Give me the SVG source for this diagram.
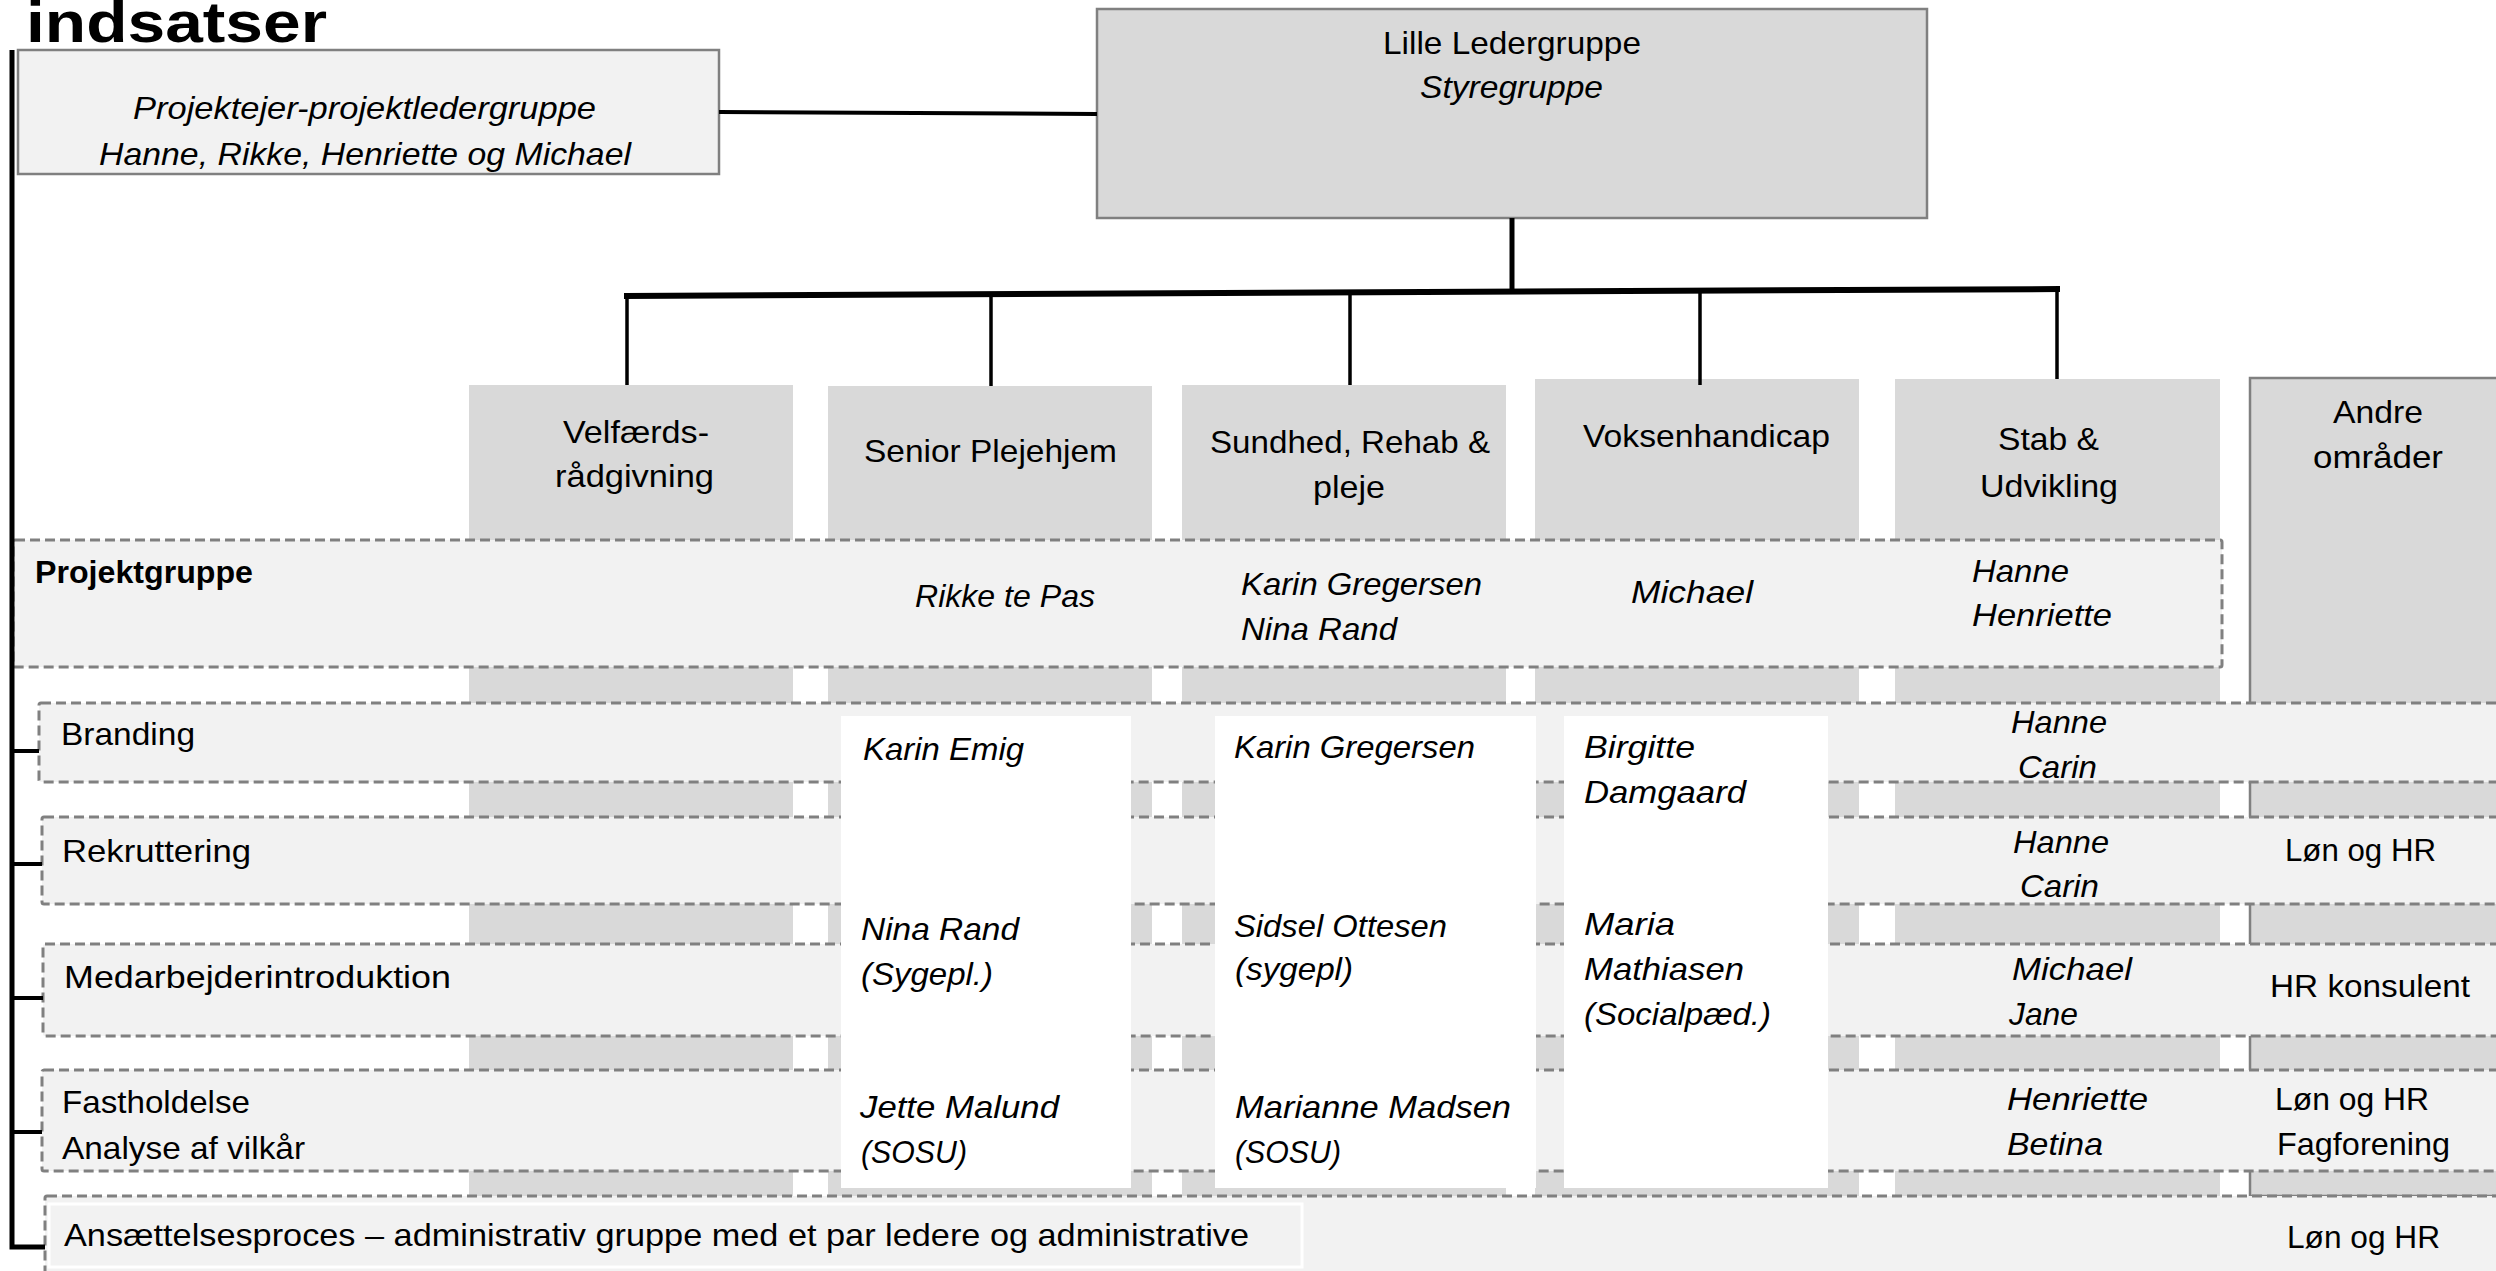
<svg xmlns="http://www.w3.org/2000/svg" width="2496" height="1271" viewBox="0 0 2496 1271">
<style>
.t{font-family:"Liberation Sans",Arial,sans-serif;font-size:32px;fill:#000}
.i{font-style:italic}
.b{font-weight:bold}
.col{fill:#d9d9d9}
.row{fill:#f2f2f2;stroke:#808080;stroke-width:3;stroke-dasharray:10 5}
.box{stroke:#808080;stroke-width:2.5}
.wb{fill:#ffffff}
.c{stroke:#000;fill:none;stroke-linecap:butt}
</style>
<rect x="0" y="0" width="2496" height="1271" fill="#ffffff"/>
<g id="title">
<text class="t b" x="26" y="42" style="font-size:58px" textLength="301" lengthAdjust="spacingAndGlyphs">indsatser</text>
</g>
<g id="projektejer">
<rect class="box" x="18" y="50" width="701" height="124" fill="#f2f2f2"/>
<text class="t i" x="133" y="119" textLength="463" lengthAdjust="spacingAndGlyphs">Projektejer-projektledergruppe</text>
<text class="t i" x="99" y="165" textLength="532" lengthAdjust="spacingAndGlyphs">Hanne, Rikke, Henriette og Michael</text>
</g>
<g id="lille-ledergruppe">
<rect class="box" x="1097" y="9" width="830" height="209" fill="#d9d9d9"/>
<text class="t" x="1383" y="54" textLength="258" lengthAdjust="spacingAndGlyphs">Lille Ledergruppe</text>
<text class="t i" x="1420" y="98" textLength="183" lengthAdjust="spacingAndGlyphs">Styregruppe</text>
</g>
<g id="dept-velfaerd">
<rect class="col" x="469" y="385" width="324" height="811"/>
<text class="t" x="563" y="443" textLength="146" lengthAdjust="spacingAndGlyphs">Velfærds-</text>
<text class="t" x="555" y="487" textLength="159" lengthAdjust="spacingAndGlyphs">rådgivning</text>
</g>
<g id="dept-senior">
<rect class="col" x="828" y="386" width="324" height="810"/>
<text class="t" x="864" y="462" textLength="253" lengthAdjust="spacingAndGlyphs">Senior Plejehjem</text>
</g>
<g id="dept-sundhed">
<rect class="col" x="1182" y="385" width="324" height="811"/>
<text class="t" x="1210" y="453" textLength="280" lengthAdjust="spacingAndGlyphs">Sundhed, Rehab &amp;</text>
<text class="t" x="1313" y="498" textLength="72" lengthAdjust="spacingAndGlyphs">pleje</text>
</g>
<g id="dept-voksen">
<rect class="col" x="1535" y="379" width="324" height="817"/>
<text class="t" x="1583" y="447" textLength="247" lengthAdjust="spacingAndGlyphs">Voksenhandicap</text>
</g>
<g id="dept-stab">
<rect class="col" x="1895" y="379" width="325" height="817"/>
<text class="t" x="1998" y="450" textLength="101" lengthAdjust="spacingAndGlyphs">Stab &amp;</text>
<text class="t" x="1980" y="497" textLength="138" lengthAdjust="spacingAndGlyphs">Udvikling</text>
</g>
<g id="dept-andre">
<rect class="col box" x="2250" y="378" width="270" height="818"/>
<text class="t" x="2333" y="423" textLength="90" lengthAdjust="spacingAndGlyphs">Andre</text>
<text class="t" x="2313" y="468" textLength="130" lengthAdjust="spacingAndGlyphs">områder</text>
</g>
<g id="row-projektgruppe">
<rect class="row" x="13" y="540" width="2209" height="127" rx="2"/>
<text class="t b" x="35" y="583" textLength="218" lengthAdjust="spacingAndGlyphs">Projektgruppe</text>
<text class="t i" x="915" y="607" textLength="180" lengthAdjust="spacingAndGlyphs">Rikke te Pas</text>
<text class="t i" x="1241" y="595" textLength="241" lengthAdjust="spacingAndGlyphs">Karin Gregersen</text>
<text class="t i" x="1241" y="640" textLength="156" lengthAdjust="spacingAndGlyphs">Nina Rand</text>
<text class="t i" x="1631" y="603" textLength="122" lengthAdjust="spacingAndGlyphs">Michael</text>
<text class="t i" x="1972" y="582" textLength="97" lengthAdjust="spacingAndGlyphs">Hanne</text>
<text class="t i" x="1972" y="626" textLength="140" lengthAdjust="spacingAndGlyphs">Henriette</text>
</g>
<g id="row-branding">
<rect class="row" x="39" y="703" width="2490" height="79" rx="2"/>
<text class="t" x="61" y="745" textLength="134" lengthAdjust="spacingAndGlyphs">Branding</text>
<text class="t i" x="2011" y="733" textLength="96" lengthAdjust="spacingAndGlyphs">Hanne</text>
<text class="t i" x="2018" y="778" textLength="79" lengthAdjust="spacingAndGlyphs">Carin</text>
</g>
<g id="row-rekruttering">
<rect class="row" x="42" y="817" width="2490" height="87" rx="2"/>
<text class="t" x="62" y="862" textLength="189" lengthAdjust="spacingAndGlyphs">Rekruttering</text>
<text class="t i" x="2013" y="853" textLength="96" lengthAdjust="spacingAndGlyphs">Hanne</text>
<text class="t i" x="2020" y="897" textLength="79" lengthAdjust="spacingAndGlyphs">Carin</text>
<text class="t" x="2285" y="861" textLength="151" lengthAdjust="spacingAndGlyphs">Løn og HR</text>
</g>
<g id="row-medarbejderintroduktion">
<rect class="row" x="43" y="944" width="2490" height="92" rx="2"/>
<text class="t" x="64" y="988" textLength="387" lengthAdjust="spacingAndGlyphs">Medarbejderintroduktion</text>
<text class="t i" x="2012" y="980" textLength="120" lengthAdjust="spacingAndGlyphs">Michael</text>
<text class="t i" x="2009" y="1025" textLength="69" lengthAdjust="spacingAndGlyphs">Jane</text>
<text class="t" x="2270" y="997" textLength="200" lengthAdjust="spacingAndGlyphs">HR konsulent</text>
</g>
<g id="row-fastholdelse">
<rect class="row" x="42" y="1070" width="2490" height="101" rx="2"/>
<text class="t" x="62" y="1113" textLength="188" lengthAdjust="spacingAndGlyphs">Fastholdelse</text>
<text class="t" x="62" y="1159" textLength="243" lengthAdjust="spacingAndGlyphs">Analyse af vilkår</text>
<text class="t i" x="2007" y="1110" textLength="141" lengthAdjust="spacingAndGlyphs">Henriette</text>
<text class="t i" x="2007" y="1155" textLength="96" lengthAdjust="spacingAndGlyphs">Betina</text>
<text class="t" x="2275" y="1110" textLength="154" lengthAdjust="spacingAndGlyphs">Løn og HR</text>
<text class="t" x="2277" y="1155" textLength="173" lengthAdjust="spacingAndGlyphs">Fagforening</text>
</g>
<g id="row-ansaettelse">
<rect class="row" x="45" y="1196" width="2490" height="110" rx="2"/>
<rect x="49" y="1204" width="1253" height="63" fill="#f2f2f2" stroke="#ffffff" stroke-width="3"/>
<text class="t" x="64" y="1246" textLength="1185" lengthAdjust="spacingAndGlyphs">Ansættelsesproces – administrativ gruppe med et par ledere og administrative</text>
<text class="t" x="2287" y="1248" textLength="153" lengthAdjust="spacingAndGlyphs">Løn og HR</text>
</g>
<g id="senior-members">
<rect class="wb" x="841" y="716" width="290" height="472"/>
<text class="t i" x="863" y="760" textLength="161" lengthAdjust="spacingAndGlyphs">Karin Emig</text>
<text class="t i" x="861" y="940" textLength="158" lengthAdjust="spacingAndGlyphs">Nina Rand</text>
<text class="t i" x="861" y="985" textLength="132" lengthAdjust="spacingAndGlyphs">(Sygepl.)</text>
<text class="t i" x="860" y="1118" textLength="199" lengthAdjust="spacingAndGlyphs">Jette Malund</text>
<text class="t i" x="861" y="1163" textLength="106" lengthAdjust="spacingAndGlyphs">(SOSU)</text>
</g>
<g id="sundhed-members">
<rect class="wb" x="1215" y="716" width="321" height="472"/>
<text class="t i" x="1234" y="758" textLength="241" lengthAdjust="spacingAndGlyphs">Karin Gregersen</text>
<text class="t i" x="1234" y="937" textLength="213" lengthAdjust="spacingAndGlyphs">Sidsel Ottesen</text>
<text class="t i" x="1235" y="980" textLength="118" lengthAdjust="spacingAndGlyphs">(sygepl)</text>
<text class="t i" x="1235" y="1118" textLength="276" lengthAdjust="spacingAndGlyphs">Marianne Madsen</text>
<text class="t i" x="1235" y="1163" textLength="106" lengthAdjust="spacingAndGlyphs">(SOSU)</text>
</g>
<g id="voksen-members">
<rect class="wb" x="1564" y="716" width="264" height="472"/>
<text class="t i" x="1584" y="758" textLength="111" lengthAdjust="spacingAndGlyphs">Birgitte</text>
<text class="t i" x="1584" y="803" textLength="162" lengthAdjust="spacingAndGlyphs">Damgaard</text>
<text class="t i" x="1584" y="935" textLength="91" lengthAdjust="spacingAndGlyphs">Maria</text>
<text class="t i" x="1584" y="980" textLength="160" lengthAdjust="spacingAndGlyphs">Mathiasen</text>
<text class="t i" x="1584" y="1025" textLength="187" lengthAdjust="spacingAndGlyphs">(Socialpæd.)</text>
</g>
<g id="connectors">
<line class="c" x1="719" y1="112" x2="1097" y2="114" stroke-width="4"/>
<line class="c" x1="1512" y1="218" x2="1512" y2="293" stroke-width="5"/>
<line class="c" x1="624" y1="296" x2="2060" y2="289" stroke-width="6"/>
<line class="c" x1="627" y1="296" x2="627" y2="385" stroke-width="3.5"/>
<line class="c" x1="991" y1="295" x2="991" y2="386" stroke-width="3.5"/>
<line class="c" x1="1350" y1="294" x2="1350" y2="385" stroke-width="3.5"/>
<line class="c" x1="1700" y1="291" x2="1700" y2="385" stroke-width="3.5"/>
<line class="c" x1="2057" y1="289" x2="2057" y2="379" stroke-width="3.5"/>
<path class="c" d="M12,50 V1247 H45" stroke-width="5"/>
<path class="c" d="M12,751 H39 M12,864 H42 M12,998 H43 M12,1132 H42" stroke-width="4"/>
</g>
</svg>
